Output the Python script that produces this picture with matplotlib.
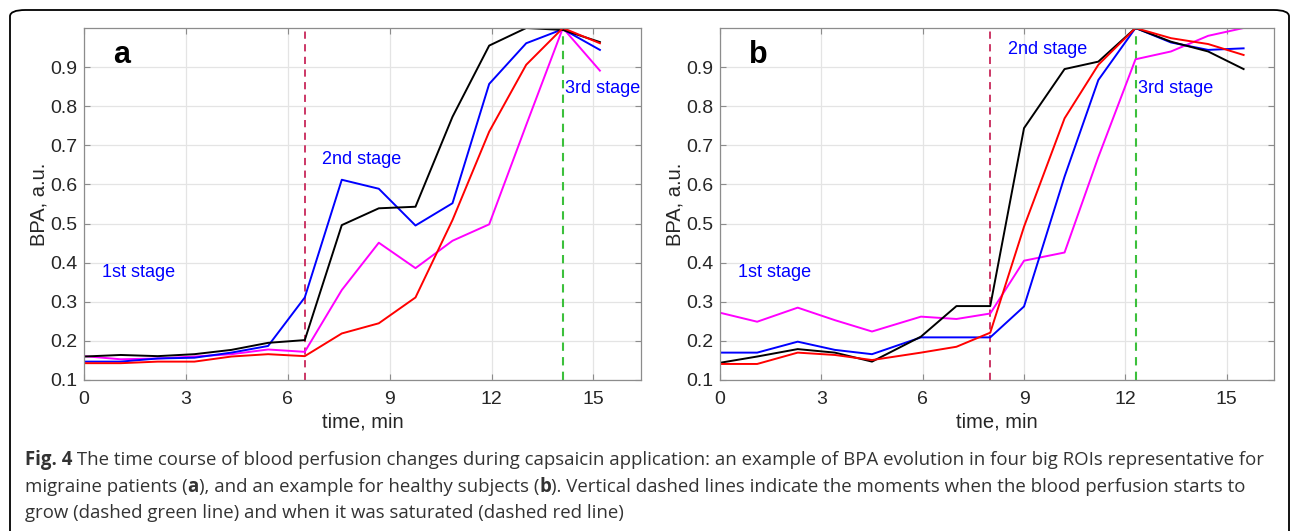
import numpy as np
import matplotlib
matplotlib.use('Agg')
import matplotlib.pyplot as plt
from matplotlib.patches import FancyBboxPatch

plt.rcParams['font.family'] = ['Liberation Sans', 'DejaVu Sans']

# panel a: migraine patient, time in min
t_a = [0, 1.08, 2.17, 3.25, 4.34, 5.42, 6.5, 7.59, 8.68, 9.76, 10.85, 11.93, 13.02, 14.1, 15.19]
black_a = [0.160, 0.164, 0.161, 0.166, 0.177, 0.195, 0.202, 0.496, 0.539, 0.543, 0.773, 0.955, 1.000, 0.995, 0.964]
blue_a = [0.147, 0.147, 0.155, 0.157, 0.170, 0.187, 0.311, 0.612, 0.589, 0.495, 0.552, 0.857, 0.961, 0.997, 0.944]
magenta_a = [0.161, 0.153, 0.155, 0.160, 0.166, 0.178, 0.172, 0.330, 0.451, 0.386, 0.456, 0.498, 0.752, 1.000, 0.891]
red_a = [0.143, 0.143, 0.147, 0.147, 0.160, 0.166, 0.161, 0.219, 0.245, 0.311, 0.509, 0.735, 0.906, 1.000, 0.961]
vlines_a = [6.5, 14.1]

# panel b: healthy subject
t_b = [0, 1.1, 2.3, 3.4, 4.5, 5.95, 7.0, 8.0, 9.0, 10.2, 11.2, 12.3, 13.35, 14.45, 15.5]
black_b = [0.144, 0.160, 0.179, 0.170, 0.147, 0.211, 0.289, 0.289, 0.744, 0.895, 0.914, 1.000, 0.965, 0.940, 0.895]
blue_b = [0.170, 0.170, 0.198, 0.177, 0.166, 0.209, 0.209, 0.209, 0.288, 0.620, 0.867, 1.000, 0.963, 0.944, 0.948]
magenta_b = [0.272, 0.249, 0.285, 0.253, 0.224, 0.262, 0.256, 0.270, 0.405, 0.426, 0.670, 0.920, 0.940, 0.980, 1.000]
red_b = [0.141, 0.141, 0.170, 0.164, 0.151, 0.170, 0.185, 0.221, 0.492, 0.769, 0.906, 1.000, 0.974, 0.959, 0.931]
vlines_b = [8.0, 12.3]

stage_labels = ['1st stage', '2nd stage', '3rd stage']
stage_pos_a = [(0.54, 0.374), (7.0, 0.664), (14.17, 0.846)]
stage_pos_b = [(0.52, 0.374), (8.53, 0.946), (12.36, 0.846)]

W, H = 1290, 531
fig = plt.figure(figsize=(W / 100, H / 100), dpi=100)

# frame around figure + caption
frame = FancyBboxPatch((10 / W, -20 / H), 1279 / W, 541 / H,
                       boxstyle='round,pad=0,rounding_size=0.012',
                       transform=fig.transFigure, fill=False, lw=1.3, ec='black')
fig.add_artist(frame)


def panel(rect, t, black, blue, magenta, red, vl, letter, stage_pos):
    ax = fig.add_axes(rect)
    ax.set_xlim(0, 16.4)
    ax.set_ylim(0.1, 1.0)
    ax.set_xticks([0, 3, 6, 9, 12, 15])
    ax.set_yticks(np.arange(0.1, 0.95, 0.1))
    ax.set_yticklabels(['%.1f' % v for v in np.arange(0.1, 0.95, 0.1)])
    ax.grid(True, color='#e4e4e4', lw=0.9)
    ax.set_axisbelow(True)
    for s in ax.spines.values():
        s.set_color('#8c8c8c')
        s.set_linewidth(0.9)
    ax.tick_params(direction='in', length=4, width=0.8, color='#8c8c8c',
                   top=True, right=True, labelsize=14, labelcolor='#262626')
    ax.tick_params(axis='x', pad=8)
    ax.tick_params(axis='y', pad=5)
    ax.axvline(vl[0], color='#c8285a', ls=(0, (4, 3)), lw=1.3)
    ax.axvline(vl[1], color='#3cc03c', ls=(0, (4, 3)), lw=1.5)
    ax.plot(t, magenta, color='#ff00ff', lw=1.4)
    ax.plot(t, blue, color='#0000ff', lw=1.4)
    ax.plot(t, black, color='black', lw=1.4)
    ax.plot(t, red, color='#ff0000', lw=1.4)
    ax.text(0.86 if letter == 'a' else 0.85, 0.93, letter, fontsize=22, fontweight='bold',
            ha='left', va='center')
    for lab, (x, y) in zip(stage_labels, stage_pos):
        ax.text(x, y, lab, color='#0000ff', fontsize=13, ha='left', va='center')
    ax.set_xlabel('time, min', fontsize=14.5, color='#262626', labelpad=3)
    ax.set_ylabel('BPA, a.u.', fontsize=14.5, color='#262626', labelpad=1)
    return ax


bottom = (H - 380) / H
height = 352 / H
panel([84 / W, bottom, 557 / W, height], t_a, black_a, blue_a, magenta_a, red_a,
      vlines_a, 'a', stage_pos_a)
panel([720 / W, bottom, 554 / W, height], t_b, black_b, blue_b, magenta_b, red_b,
      vlines_b, 'b', stage_pos_b)

# caption, with bold pieces placed one after another
cap_lines = [
    [('Fig. 4', 'bold'), (' The time course of blood perfusion changes during capsaicin application: '
                          'an example of BPA evolution in four big ROIs representative for', 'normal')],
    [('migraine patients (', 'normal'), ('a', 'bold'),
     ('), and an example for healthy subjects (', 'normal'), ('b', 'bold'),
     ('). Vertical dashed lines indicate the moments when the blood perfusion starts to', 'normal')],
    [('grow (dashed green line) and when it was saturated (dashed red line)', 'normal')],
]
cap_y = [465, 492, 518]
renderer = fig.canvas.get_renderer()
for pieces, yb in zip(cap_lines, cap_y):
    x = 25
    for txt, wt in pieces:
        tt = fig.text(x / W, 1 - yb / H, txt, fontsize=13.45, fontweight=wt,
                      family=['Open Sans', 'DejaVu Sans'], color='#333333',
                      ha='left', va='baseline')
        bb = tt.get_window_extent(renderer)
        x += bb.width

fig.savefig('out.png', dpi=100)
